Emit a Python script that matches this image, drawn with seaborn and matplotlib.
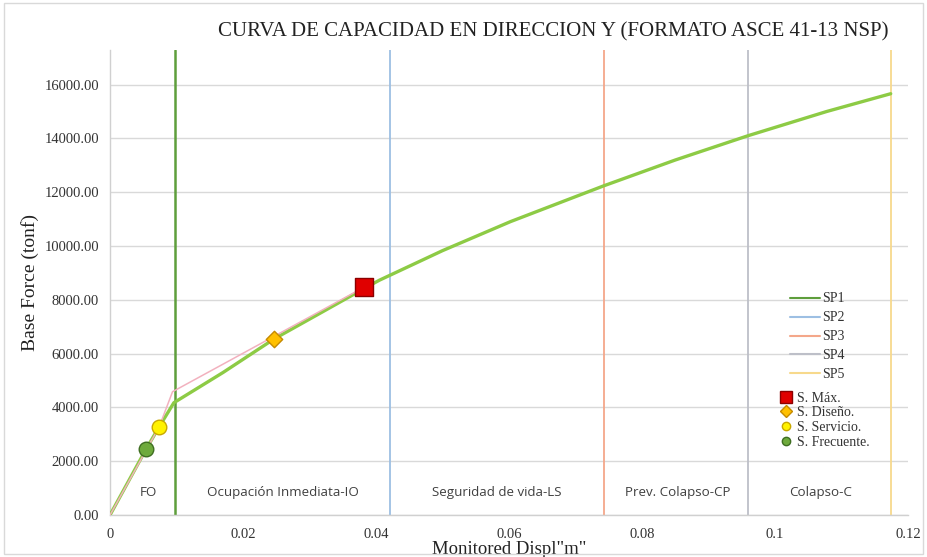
import matplotlib
matplotlib.use("Agg")
import matplotlib.pyplot as plt
import seaborn as sns
import pandas as pd
from matplotlib.lines import Line2D
from matplotlib.patches import Rectangle

# ---- data ----
disp = [0, 0.0054, 0.0074, 0.0096, 0.0170, 0.0247, 0.0320, 0.0382, 0.0405,
        0.0500, 0.0602, 0.0742, 0.0850, 0.0959, 0.1078, 0.1174]
force = [0, 2443, 3283, 4175, 5300, 6551, 7560, 8420, 8730,
         9830, 10907, 12236, 13200, 14100, 15006, 15665]

bilin_disp = [0, 0.0074, 0.0094, 0.0382]
bilin_force = [0, 3283, 4585, 8470]

sp_names = ["SP1", "SP2", "SP3", "SP4", "SP5"]
sp_disp = [0.0098, 0.0421, 0.0743, 0.0959, 0.1174]

pt_names = ["S. Máx.", "S. Diseño.", "S. Servicio.", "S. Frecuente."]
pt_disp = [0.0382, 0.0247, 0.0074, 0.0054]
pt_force = [8470, 6551, 3283, 2443]

zone_names = ["FO", "Ocupación Inmediata-IO", "Seguridad de vida-LS",
              "Prev. Colapso-CP", "Colapso-C"]
zone_x = [0.0057, 0.0260, 0.0582, 0.0853, 0.1068]

yticks = [0, 2000, 4000, 6000, 8000, 10000, 12000, 14000, 16000]
xticks = [0, 0.02, 0.04, 0.06, 0.08, 0.1, 0.12]
xtick_labels = ["0", "0.02", "0.04", "0.06", "0.08", "0.1", "0.12"]

# ---- styles ----
sns.set_theme(style="white")
plt.rcParams["font.family"] = ["Liberation Serif", "DejaVu Serif"]

sp_colors = ["#5E9E3C", "#9DBFE3", "#F4A78A", "#BDBFC8", "#F7D98C"]
sp_widths = [1.8, 1.3, 1.3, 1.3, 1.3]
pt_colors = ["#E00000", "#FFC000", "#FFF200", "#6EAA3C"]
pt_edges = ["#8B0000", "#C58A00", "#C8A800", "#3F6E22"]
pt_markers = ["s", "D", "o", "o"]
pt_sizes = [150, 70, 110, 110]

fig = plt.figure(figsize=(9.27, 5.57), dpi=100)
ax = fig.add_axes([0.1187, 0.0754, 0.8608, 0.8348])

ymax = 17290
for i, x in enumerate(sp_disp):
    ax.axvline(x, color=sp_colors[i], lw=sp_widths[i], zorder=2)

df_curve = pd.DataFrame({"d": disp, "f": force})
sns.lineplot(data=df_curve, x="d", y="f", ax=ax, color="#8DCB45", lw=2.4,
             sort=False, zorder=3, legend=False)
df_bl = pd.DataFrame({"d": bilin_disp, "f": bilin_force})
sns.lineplot(data=df_bl, x="d", y="f", ax=ax, color="#F2B1BE", lw=1.1,
             sort=False, zorder=4, legend=False)

for i in range(len(pt_names)):
    dfp = pd.DataFrame({"d": [pt_disp[i]], "f": [pt_force[i]]})
    sns.scatterplot(data=dfp, x="d", y="f", ax=ax, marker=pt_markers[i],
                    s=pt_sizes[i], color=pt_colors[i], edgecolor=pt_edges[i],
                    linewidth=1.0, zorder=5, legend=False)

for name, x in zip(zone_names, zone_x):
    ax.text(x, 850, name, ha="center", va="center", fontsize=9.6,
            family=["Open Sans", "DejaVu Sans"], color="#404040", zorder=6)

ax.set_xlim(0, 0.12)
ax.set_ylim(0, ymax)
ax.set_yticks(yticks)
ax.set_yticklabels([f"{v:.2f}" for v in yticks], fontsize=10.5, color="#333333")
ax.set_xticks(xticks)
ax.set_xticklabels(xtick_labels, fontsize=10.5, color="#333333")
ax.tick_params(axis="y", length=0, pad=8)
ax.tick_params(axis="x", length=0, pad=9)
ax.yaxis.grid(True, color="#D9D9D9", lw=1.0)
ax.xaxis.grid(False)
ax.set_axisbelow(True)
for side in ["top", "right"]:
    ax.spines[side].set_visible(False)
for side in ["left", "bottom"]:
    ax.spines[side].set_color("#D0D0D0")
    ax.spines[side].set_linewidth(1.0)

ax.set_xlabel('Monitored Displ"m"', fontsize=13.5, color="#222222", labelpad=0)
ax.set_ylabel("Base Force (tonf)", fontsize=14, color="#222222", labelpad=4)

fig.text(0.597, 0.942, "CURVA DE CAPACIDAD EN DIRECCION Y (FORMATO ASCE 41-13 NSP)",
         ha="center", va="center", fontsize=15, color="#222222")

line_handles = [Line2D([0], [0], color=sp_colors[i], lw=1.5, label=n)
                for i, n in enumerate(sp_names)]
leg1 = ax.legend(handles=line_handles, loc="upper left",
                 bbox_to_anchor=(0.852, 0.475), bbox_transform=fig.transFigure,
                 frameon=False, fontsize=10, handlelength=2.2, handletextpad=0.1,
                 labelspacing=0.43, borderaxespad=0, borderpad=0)
for t in leg1.get_texts():
    t.set_color("#333333")
ax.add_artist(leg1)

pt_handles = [Line2D([0], [0], marker=pt_markers[i], ls="none",
                     markerfacecolor=pt_colors[i], markeredgecolor=pt_edges[i],
                     markersize=8 if i == 0 else 6, label=n)
              for i, n in enumerate(pt_names)]
leg2 = ax.legend(handles=pt_handles, loc="upper left",
                 bbox_to_anchor=(0.840, 0.297), bbox_transform=fig.transFigure,
                 frameon=False, fontsize=10, handlelength=1.0, handletextpad=0.3,
                 labelspacing=0.12, borderaxespad=0, borderpad=0)
for t in leg2.get_texts():
    t.set_color("#333333")

fig.patches.append(Rectangle((0.004, 0.006), 0.992, 0.988, transform=fig.transFigure,
                             fill=False, edgecolor="#D9D9D9", lw=1.0))

fig.savefig("out.png", dpi=100)
